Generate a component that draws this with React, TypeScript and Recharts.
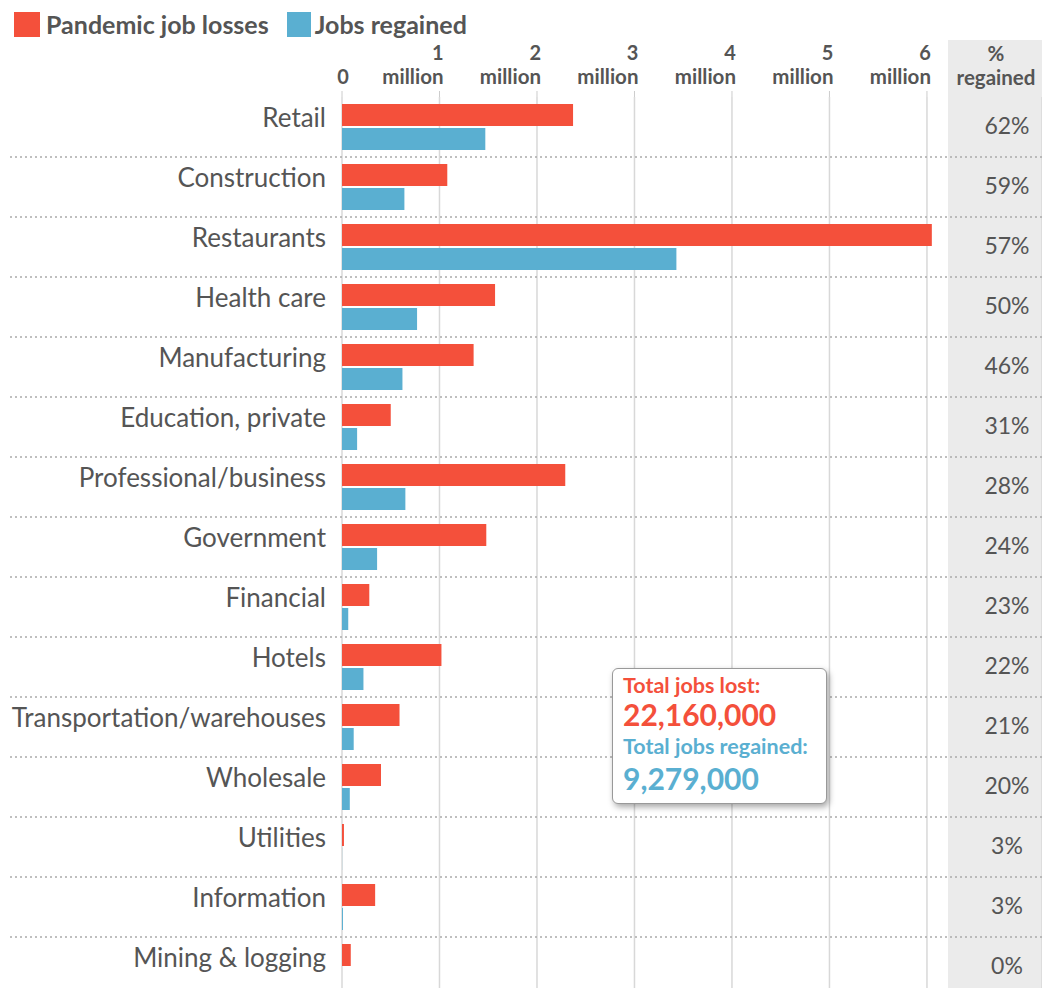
import { BarChart, Bar, XAxis, YAxis, CartesianGrid } from "recharts"

const categories = [
  "Retail",
  "Construction",
  "Restaurants",
  "Health care",
  "Manufacturing",
  "Education, private",
  "Professional/business",
  "Government",
  "Financial",
  "Hotels",
  "Transportation/warehouses",
  "Wholesale",
  "Utilities",
  "Information",
  "Mining & logging",
]

// millions of jobs
const jobsLost = [2.37, 1.08, 6.05, 1.57, 1.35, 0.5, 2.29, 1.48, 0.28, 1.02, 0.59, 0.4, 0.02, 0.34, 0.09]
const jobsRegained = [1.47, 0.64, 3.43, 0.77, 0.62, 0.155, 0.65, 0.36, 0.064, 0.22, 0.12, 0.08, 0.001, 0.01, 0]
const pctRegained = ["62%", "59%", "57%", "50%", "46%", "31%", "28%", "24%", "23%", "22%", "21%", "20%", "3%", "3%", "0%"]

const xTicks = [0, 1, 2, 3, 4, 5, 6]

const totalLost = "22,160,000"
const totalRegained = "9,279,000"

const RED = "#f4503b"
const BLUE = "#5aafd1"
const TEXT = "#555"
const ROW = 60

const data = categories.map((name, i) => ({
  name,
  lost: jobsLost[i],
  regained: jobsRegained[i],
}))

function MillionTick({ x, y, payload }: any) {
  const v = payload.value
  if (v === 0) {
    return (
      <text x={x + 1} y={y - 5} textAnchor="middle" fontSize={20} fontWeight={700} fill={TEXT}>
        0
      </text>
    )
  }
  return (
    <g>
      <text x={x + 4} y={y - 29} textAnchor="end" fontSize={20} fontWeight={700} fill={TEXT}>
        {v}
      </text>
      <text x={x + 4} y={y - 5} textAnchor="end" fontSize={20.5} fontWeight={700} fill={TEXT}>
        million
      </text>
    </g>
  )
}

function CategoryTick({ y, payload }: any) {
  const i = categories.indexOf(payload.value)
  return (
    <g>
      {i > 0 && (
        <line
          x1={10}
          x2={1042}
          y1={y - ROW / 2}
          y2={y - ROW / 2}
          stroke="#aaa"
          strokeWidth={1.5}
          strokeDasharray="2 3"
        />
      )}
      <text x={326} y={y} textAnchor="end" fontSize={26} fill={TEXT}>
        {payload.value}
      </text>
      <text x={1007} y={y + 7} textAnchor="middle" fontSize={23} fill={TEXT}>
        {pctRegained[i]}
      </text>
    </g>
  )
}

export default function App() {
  return (
    <div
      style={{
        position: "absolute",
        left: 0,
        top: 0,
        width: 1042,
        height: 988,
        overflow: "hidden",
        background: "#fff",
        fontFamily: "Lato, sans-serif",
      }}
    >
      {/* shaded "% regained" column */}
      <div style={{ position: "absolute", left: 948, top: 40, width: 94, height: 948, background: "#ebebeb" }} />

      <div style={{ position: "absolute", left: 0, top: 0 }}>
        <BarChart
          width={1042}
          height={1000}
          data={data}
          layout="vertical"
          margin={{ top: 67, right: 0, bottom: 3, left: 0 }}
          barSize={22}
          barGap={2}
        >
          <CartesianGrid horizontal={false} stroke="#d8d8d8" strokeWidth={1.5} />
          <XAxis
            type="number"
            orientation="top"
            domain={[0, 7.18]}
            ticks={xTicks}
            height={30}
            axisLine={false}
            tickLine={{ stroke: "#ccc" }}
            tickSize={6}
            tick={<MillionTick />}
            interval={0}
          />
          <YAxis
            type="category"
            dataKey="name"
            width={342}
            axisLine={false}
            tickLine={false}
            tick={<CategoryTick />}
            interval={0}
          />
          <Bar dataKey="lost" fill={RED} isAnimationActive={false} />
          <Bar dataKey="regained" fill={BLUE} isAnimationActive={false} />
        </BarChart>
      </div>

      {/* % regained header */}
      <div
        style={{
          position: "absolute",
          left: 948,
          top: 41,
          width: 96,
          textAlign: "center",
          color: TEXT,
          fontWeight: 700,
          fontSize: 20.5,
          lineHeight: "24px",
        }}
      >
        %<br />regained
      </div>

      {/* legend */}
      <div
        style={{
          position: "absolute",
          left: 14,
          top: 11,
          display: "flex",
          alignItems: "center",
          color: TEXT,
          fontWeight: 700,
          fontSize: 25,
          lineHeight: "26px",
        }}
      >
        <span style={{ width: 26, height: 25, background: RED, display: "inline-block", marginRight: 6 }} />
        <span style={{ marginRight: 18 }}>Pandemic job losses</span>
        <span style={{ width: 24, height: 25, background: BLUE, display: "inline-block", marginRight: 4 }} />
        <span>Jobs regained</span>
      </div>

      {/* totals box */}
      <div
        style={{
          position: "absolute",
          left: 612,
          top: 668,
          width: 195,
          padding: "2px 8px 10px 10px",
          background: "#fff",
          border: "1.5px solid #999",
          borderRadius: 6,
          boxShadow: "2px 3px 6px rgba(0,0,0,0.35)",
          fontWeight: 700,
          whiteSpace: "nowrap",
        }}
      >
        <div style={{ color: RED, fontSize: 21.5, lineHeight: "28px" }}>Total jobs lost:</div>
        <div style={{ color: RED, fontSize: 30, lineHeight: "30px" }}>{totalLost}</div>
        <div style={{ color: BLUE, fontSize: 21.5, lineHeight: "34px" }}>Total jobs regained:</div>
        <div style={{ color: BLUE, fontSize: 30, lineHeight: "30px" }}>{totalRegained}</div>
      </div>
    </div>
  )
}
